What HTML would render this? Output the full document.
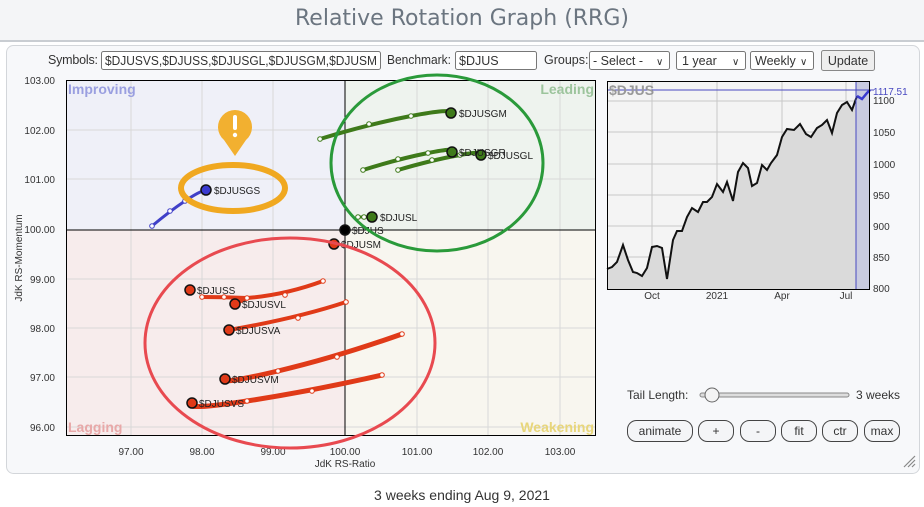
<!DOCTYPE html>
<html><head><meta charset="utf-8"><style>
html,body{margin:0;padding:0;background:#fff;}
svg{display:block;font-family:"Liberation Sans",sans-serif;}
</style></head><body>
<svg width="924" height="507" viewBox="0 0 924 507" xmlns="http://www.w3.org/2000/svg">
<rect x="0" y="0" width="924" height="42" fill="#f4f5f7"/>
<line x1="0" y1="41" x2="924" y2="41" stroke="#c9cdd2" stroke-width="2"/>
<text x="462" y="25" text-anchor="middle" font-size="22" fill="#6b7580" font-family="DejaVu Sans, Liberation Sans, sans-serif">Relative Rotation Graph (RRG)</text>
<rect x="6.5" y="45.5" width="913" height="428" rx="7" fill="#f7f8fa" stroke="#d3d6da"/>
<g font-size="12.5" fill="#333">
<text x="48" y="64" textLength="50">Symbols:</text>
<rect x="101.5" y="51.5" width="279" height="18" fill="#fff" stroke="#777" rx="2"/>
<text x="105" y="65" textLength="272" lengthAdjust="spacingAndGlyphs">$DJUSVS,$DJUSS,$DJUSGL,$DJUSGM,$DJUSM</text>
<text x="387" y="64" textLength="64" lengthAdjust="spacingAndGlyphs">Benchmark:</text>
<rect x="455.5" y="51.5" width="81" height="18" fill="#fff" stroke="#777" rx="2"/>
<text x="459" y="65">$DJUS</text>
<text x="544" y="64">Groups:</text>
<rect x="589.5" y="51.5" width="80" height="18" fill="#fff" stroke="#777" rx="2"/>
<text x="593" y="65">- Select -</text><text x="656" y="65" font-size="10">&#x2228;</text>
<rect x="676.5" y="51.5" width="69" height="18" fill="#fff" stroke="#777" rx="2"/>
<text x="682" y="65">1 year</text><text x="732" y="65" font-size="10">&#x2228;</text>
<rect x="750.5" y="51.5" width="63" height="18" fill="#fff" stroke="#777" rx="2"/>
<text x="755" y="65">Weekly</text><text x="800" y="65" font-size="10">&#x2228;</text>
<rect x="821.5" y="50.5" width="53" height="20" fill="#eee" stroke="#888" rx="2"/>
<text x="848" y="65" text-anchor="middle">Update</text>
</g>
<rect x="66" y="80" width="279" height="150" fill="#eff0f8"/>
<rect x="345" y="80" width="251" height="150" fill="#eef3ee"/>
<rect x="66" y="230" width="279" height="206" fill="#f7ecec"/>
<rect x="345" y="230" width="251" height="206" fill="#f8f6ef"/>
<g stroke="#d8d8d8" stroke-width="1">
<line x1="131" y1="80" x2="131" y2="436"/><line x1="202" y1="80" x2="202" y2="436"/><line x1="273" y1="80" x2="273" y2="436"/>
<line x1="417" y1="80" x2="417" y2="436"/><line x1="488" y1="80" x2="488" y2="436"/><line x1="560" y1="80" x2="560" y2="436"/>
<line x1="66" y1="130" x2="596" y2="130"/><line x1="66" y1="179" x2="596" y2="179"/><line x1="66" y1="279" x2="596" y2="279"/>
<line x1="66" y1="328" x2="596" y2="328"/><line x1="66" y1="377" x2="596" y2="377"/><line x1="66" y1="427" x2="596" y2="427"/>
</g>
<line x1="345" y1="80" x2="345" y2="436" stroke="#000"/>
<line x1="66" y1="230" x2="596" y2="230" stroke="#000"/>
<rect x="66.5" y="80.5" width="529" height="355" fill="none" stroke="#000"/>
<g font-size="14" font-weight="bold">
<text x="68" y="94" fill="#9a9fe0">Improving</text>
<text x="594" y="94" fill="#9cc49c" text-anchor="end">Leading</text>
<text x="68" y="432" fill="#e8a8a8">Lagging</text>
<text x="594" y="432" fill="#e8d67a" text-anchor="end">Weakening</text>
</g>
<g font-size="10" fill="#333" text-anchor="end">
<text x="55" y="84">103.00</text><text x="55" y="134">102.00</text><text x="55" y="183">101.00</text>
<text x="55" y="233">100.00</text><text x="55" y="283">99.00</text><text x="55" y="332">98.00</text>
<text x="55" y="381">97.00</text><text x="55" y="431">96.00</text>
</g>
<g font-size="10" fill="#333" text-anchor="middle">
<text x="131" y="455">97.00</text><text x="202" y="455">98.00</text><text x="273" y="455">99.00</text>
<text x="345" y="455">100.00</text><text x="417" y="455">101.00</text><text x="488" y="455">102.00</text><text x="560" y="455">103.00</text>
<text x="345" y="467">JdK RS-Ratio</text>
</g>
<text x="0" y="0" font-size="10" fill="#333" text-anchor="middle" transform="translate(22,258) rotate(-90)">JdK RS-Momentum</text>
<g fill="none" stroke-linecap="round">
<path d="M152,226 Q170,211 185,201 T206,190" stroke="#4040c8" stroke-width="3"/>
<path d="M320,139 Q369,124 411,116 T451,113" stroke="#3e7a1a" stroke-width="4"/>
<path d="M363,170 Q398,159 428,153 T452,152" stroke="#3e7a1a" stroke-width="4"/>
<path d="M398,170 Q432,160 460,155 T481,155" stroke="#3e7a1a" stroke-width="4"/>
<path d="M358,217 L372,217" stroke="#3e7a1a" stroke-width="3"/>
<path d="M202,297 Q224,297 247,298" stroke="#e03a18" stroke-width="4"/>
<path d="M323,281 Q285,295 247,298 L235,304" stroke="#e03a18" stroke-width="4"/>
<path d="M346,302 Q298,318 229,330" stroke="#e03a18" stroke-width="4"/>
<path d="M402,334 Q337,357 278,371 T225,379" stroke="#e03a18" stroke-width="5"/>
<path d="M382,375 Q312,391 247,401 T192,403" stroke="#e03a18" stroke-width="5"/>
</g>
<g fill="#fff" stroke-width="1">
<g stroke="#4040c8"><circle cx="152" cy="226" r="2.3"/><circle cx="170" cy="211" r="2.3"/><circle cx="185" cy="201" r="2.3"/></g>
<g stroke="#3e7a1a">
<circle cx="320" cy="139" r="2.3"/><circle cx="369" cy="124" r="2.3"/><circle cx="411" cy="116" r="2.3"/>
<circle cx="363" cy="170" r="2.3"/><circle cx="398" cy="159" r="2.3"/><circle cx="428" cy="153" r="2.3"/>
<circle cx="398" cy="170" r="2.3"/><circle cx="432" cy="160" r="2.3"/><circle cx="460" cy="155" r="2.3"/>
<circle cx="358" cy="217" r="2.3"/><circle cx="364" cy="217" r="2.3"/></g>
<g stroke="#e03a18">
<circle cx="202" cy="297" r="2.3"/><circle cx="224" cy="297" r="2.3"/><circle cx="247" cy="298" r="2.3"/>
<circle cx="323" cy="281" r="2.3"/><circle cx="285" cy="295" r="2.3"/>
<circle cx="346" cy="302" r="2.3"/><circle cx="298" cy="318" r="2.3"/>
<circle cx="402" cy="334" r="2.3"/><circle cx="337" cy="357" r="2.3"/><circle cx="278" cy="371" r="2.3"/>
<circle cx="382" cy="375" r="2.3"/><circle cx="312" cy="391" r="2.3"/><circle cx="247" cy="401" r="2.3"/></g>
</g>
<g stroke="#111" stroke-width="1.5">
<circle cx="206" cy="190" r="5" fill="#3a3ad0"/>
<circle cx="451" cy="113" r="5" fill="#3e7a1a"/><circle cx="452" cy="152" r="5" fill="#3e7a1a"/>
<circle cx="481" cy="155" r="5" fill="#3e7a1a"/><circle cx="372" cy="217" r="5" fill="#3e7a1a"/>
<circle cx="345" cy="230" r="5" fill="#000"/><circle cx="334" cy="244" r="5" fill="#e03a18"/>
<circle cx="190" cy="290" r="5" fill="#e03a18"/><circle cx="235" cy="304" r="5" fill="#e03a18"/>
<circle cx="229" cy="330" r="5" fill="#e03a18"/><circle cx="225" cy="379" r="5" fill="#e03a18"/>
<circle cx="192" cy="403" r="5" fill="#e03a18"/>
</g>
<g font-size="10" fill="#222">
<text x="214" y="194">$DJUSGS</text><text x="459" y="117">$DJUSGM</text><text x="459" y="156">$DJUSGR</text>
<text x="488" y="159">$DJUSGL</text><text x="380" y="221">$DJUSL</text><text x="352" y="234">$DJUS</text>
<text x="341" y="248">$DJUSM</text><text x="197" y="294">$DJUSS</text><text x="242" y="308">$DJUSVL</text>
<text x="236" y="334">$DJUSVA</text><text x="232" y="383">$DJUSVM</text><text x="199" y="407">$DJUSVS</text>
</g>
<ellipse cx="233" cy="188" rx="52" ry="23" fill="none" stroke="#f0a820" stroke-width="6"/>
<path d="M235,156 L224,140 A17,17 0 1 1 246,140 Z" fill="#f2b030"/>
<rect x="233" y="115" width="4" height="15" rx="2" fill="#fff"/><circle cx="235" cy="135" r="2.2" fill="#fff"/>
<ellipse cx="437" cy="163" rx="106" ry="88" fill="none" stroke="#2a9a3a" stroke-width="3"/>
<ellipse cx="290" cy="343" rx="145" ry="105" fill="none" stroke="#e84a50" stroke-width="3"/>
<rect x="607" y="81" width="262" height="208" fill="#f4f4f4"/>
<g stroke="#c8c8c8"><line x1="652" y1="81" x2="652" y2="289"/><line x1="717" y1="81" x2="717" y2="289"/><line x1="782" y1="81" x2="782" y2="289"/><line x1="846" y1="81" x2="846" y2="289"/>
<line x1="607" y1="101" x2="869" y2="101"/><line x1="607" y1="132" x2="869" y2="132"/><line x1="607" y1="164" x2="869" y2="164"/><line x1="607" y1="195" x2="869" y2="195"/><line x1="607" y1="226" x2="869" y2="226"/><line x1="607" y1="257" x2="869" y2="257"/></g>
<polygon fill="#dadada" points="607,289 607,269 612,267 617,262 623,245 628,260 633,272 637,273 642,276 647,268 652,247 657,246 662,248 667,279 673,240 677,231 682,231 687,217 692,208 698,212 703,202 707,202 712,197 717,184 723,192 727,182 733,201 738,172 743,163 748,168 752,186 757,183 762,165 767,170 771,163 777,155 782,137 787,129 794,130 800,124 806,134 811,137 817,128 822,125 827,120 832,133 837,113 842,105 847,102 852,110 857,96 857,289"/>
<rect x="856" y="81" width="13" height="208" fill="#c9cbe0"/>
<polyline fill="none" stroke="#111" stroke-width="2" points="607,269 612,267 617,262 623,245 628,260 633,272 637,273 642,276 647,268 652,247 657,246 662,248 667,279 673,240 677,231 682,231 687,217 692,208 698,212 703,202 707,202 712,197 717,184 723,192 727,182 733,201 738,172 743,163 748,168 752,186 757,183 762,165 767,170 771,163 777,155 782,137 787,129 794,130 800,124 806,134 811,137 817,128 822,125 827,120 832,133 837,113 842,105 847,102 852,110 857,96"/>
<polyline fill="none" stroke="#3a3ad0" stroke-width="2.5" points="857,96 862,99 867,93 870,90"/>
<line x1="856" y1="81" x2="856" y2="289" stroke="#4848c0"/>
<line x1="607" y1="90" x2="874" y2="90" stroke="#4848c0"/>
<rect x="607.5" y="81.5" width="262" height="208" fill="none" stroke="#000"/>
<text x="609" y="95" font-size="14" font-weight="bold" fill="#999">$DJUS</text>
<g font-size="10" fill="#333">
<text x="873" y="95" fill="#4848c0">1117.51</text><text x="873" y="104">1100</text><text x="873" y="136">1050</text>
<text x="873" y="168">1000</text><text x="873" y="199">950</text><text x="873" y="230">900</text><text x="873" y="261">850</text><text x="873" y="292">800</text>
</g>
<g font-size="10" fill="#333" text-anchor="middle"><text x="652" y="299">Oct</text><text x="717" y="299">2021</text><text x="782" y="299">Apr</text><text x="846" y="299">Jul</text></g>
<text x="627" y="399" font-size="12" fill="#333">Tail Length:</text>
<rect x="700" y="393" width="149" height="4" rx="2" fill="#ddd" stroke="#888"/>
<circle cx="712" cy="395" r="7" fill="#f4f4f4" stroke="#666"/>
<text x="900" y="399" font-size="12" fill="#333" text-anchor="end">3 weeks</text>
<g font-size="12" fill="#333" text-anchor="middle">
<rect x="627.5" y="420.5" width="65" height="21" rx="9" fill="#f4f5f7" stroke="#444"/><text x="660" y="435">animate</text>
<rect x="698.5" y="420.5" width="35" height="21" rx="9" fill="#f4f5f7" stroke="#444"/><text x="716" y="435">+</text>
<rect x="740.5" y="420.5" width="35" height="21" rx="9" fill="#f4f5f7" stroke="#444"/><text x="758" y="435">-</text>
<rect x="781.5" y="420.5" width="35" height="21" rx="9" fill="#f4f5f7" stroke="#444"/><text x="799" y="435">fit</text>
<rect x="822.5" y="420.5" width="35" height="21" rx="9" fill="#f4f5f7" stroke="#444"/><text x="840" y="435">ctr</text>
<rect x="864.5" y="420.5" width="35" height="21" rx="9" fill="#f4f5f7" stroke="#444"/><text x="882" y="435">max</text>
</g>
<g stroke="#888" stroke-width="1.2"><line x1="904" y1="467" x2="915" y2="456"/><line x1="908" y1="467" x2="915" y2="460"/><line x1="912" y1="467" x2="915" y2="464"/></g>
<text x="462" y="500" font-size="14" fill="#333" text-anchor="middle">3 weeks ending Aug 9, 2021</text>
</svg>
</body></html>
